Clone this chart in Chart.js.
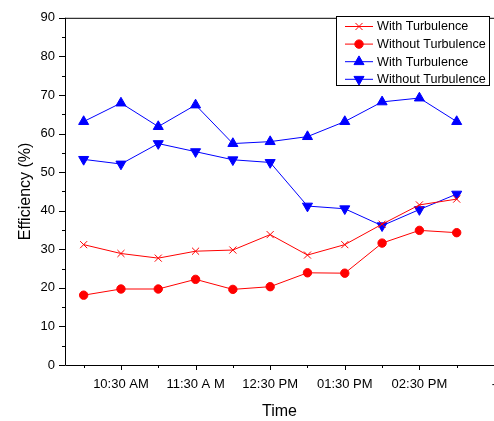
<!DOCTYPE html>
<html>
<head>
<meta charset="utf-8">
<script src="https://cdn.jsdelivr.net/npm/chart.js@4.4.1/dist/chart.umd.min.js"></script>
<style>
html,body{margin:0;padding:0;background:#fff;}
#wrap{width:494px;height:421px;position:relative;}
</style>
</head>
<body>
<div id="wrap"><canvas id="c" width="494" height="421"></canvas></div>
<script>
// ---- data ----
const pointIndex = [0,1,2,3,4,5,6,7,8,9,10];
const tickLabelIndex = [1,3,5,7,9,11];
const tickLabels = ['10:30 AM','11:30 A M','12:30 PM','01:30 PM','02:30 PM','-'];
const seriesNames = ['With Turbulence','Without Turbulence','With Turbulence','Without Turbulence'];
const redWith    = [31.2, 28.9, 27.7, 29.5, 29.8, 33.8, 28.5, 31.2, 36.5, 41.5, 43.0];
const redWithout = [18.1, 19.7, 19.7, 22.2, 19.6, 20.3, 23.9, 23.8, 31.6, 34.9, 34.3];
const blueWith   = [63.1, 67.9, 61.8, 67.4, 57.4, 57.9, 59.2, 63.1, 68.2, 69.2, 63.1];
const blueWithout= [53.3, 52.1, 57.4, 55.3, 53.2, 52.5, 41.2, 40.5, 36.1, 40.3, 44.3];

const toXY = arr => arr.map((v,i)=>({x:pointIndex[i], y:v}));
const FONT = "'Liberation Sans', Arial, sans-serif";

const datasets = [
  {label:seriesNames[0], data:toXY(redWith), borderColor:'#ff0000', backgroundColor:'#ff0000',
   pointStyle:'crossRot', pointRadius:5, pointBorderWidth:1, borderWidth:1},
  {label:seriesNames[1], data:toXY(redWithout), borderColor:'#ff0000', backgroundColor:'#ff0000',
   pointStyle:'circle', pointRadius:4.2, pointBorderWidth:1, borderWidth:1},
  {label:seriesNames[2], data:toXY(blueWith), borderColor:'#0000ff', backgroundColor:'#0000ff',
   pointStyle:'triangle', pointRadius:5.8, pointBorderWidth:1, borderWidth:1},
  {label:seriesNames[3], data:toXY(blueWithout), borderColor:'#0000ff', backgroundColor:'#0000ff',
   pointStyle:'triangle', pointRotation:180, pointRadius:5.8, pointBorderWidth:1, borderWidth:1}
];

const framePlugin = {
  id:'frame',
  afterDatasetsDraw(chart){
    const {ctx, chartArea:a, scales:{x,y}} = chart;
    ctx.save();
    ctx.strokeStyle = '#000';
    ctx.lineWidth = 1;
    ctx.beginPath();
    ctx.moveTo(a.left+0.5, a.top); ctx.lineTo(a.left+0.5, a.bottom+0.5);
    ctx.lineTo(chart.width, a.bottom+0.5);
    ctx.moveTo(a.left, a.top+0.5); ctx.lineTo(chart.width, a.top+0.5);
    x.ticks.forEach(t=>{
      const px = Math.round(x.getPixelForValue(t.value))+0.5;
      const len = (t.value % 2 === 1) ? 5 : 3;
      ctx.moveTo(px, a.bottom); ctx.lineTo(px, a.bottom+len);
    });
    y.ticks.forEach(t=>{
      const py = Math.round(y.getPixelForValue(t.value))+0.5;
      const len = (t.value % 10 === 0) ? 6 : 3;
      ctx.moveTo(a.left, py); ctx.lineTo(a.left-len, py);
    });
    ctx.stroke();

    // legend box
    const bx = 336.5, by = 16.5, bw = 153, bh = 69;
    ctx.fillStyle = '#fff';
    ctx.fillRect(bx, by, bw, bh);
    ctx.strokeStyle = '#000';
    ctx.strokeRect(bx, by, bw, bh);
    ctx.font = '12.6px ' + FONT;
    ctx.textBaseline = 'middle';
    ctx.textAlign = 'left';
    chart.data.datasets.forEach((ds,i)=>{
      const cy = 26.5 + i*17.6;
      ctx.strokeStyle = ds.borderColor;
      ctx.fillStyle = ds.backgroundColor;
      ctx.lineWidth = 1;
      ctx.beginPath();
      ctx.moveTo(345, cy); ctx.lineTo(373, cy);
      ctx.stroke();
      Chart.helpers.drawPoint(ctx, {pointStyle:ds.pointStyle, radius:ds.pointRadius, rotation:ds.pointRotation||0, borderWidth:1}, 359, cy);
      ctx.fillStyle = '#000';
      ctx.fillText(ds.label, 377, cy+0.5);
    });
    ctx.restore();
  }
};

new Chart(document.getElementById('c'), {
  type:'line',
  data:{datasets},
  options:{
    responsive:false,
    animation:false,
    devicePixelRatio:1,
    layout:{autoPadding:false, padding:{top:13, right:-1, left:0, bottom:0}},
    plugins:{legend:{display:false}, tooltip:{enabled:false}},
    elements:{line:{tension:0}},
    scales:{
      x:{
        type:'linear', min:-0.5, max:11,
        afterBuildTicks(s){ s.ticks = [0,1,2,3,4,5,6,7,8,9,10,11].map(v=>({value:v})); },
        afterFit(s){ s.height = 56; s.paddingRight = 0; s.paddingLeft = 0; },
        grid:{display:false, drawTicks:false},
        border:{display:false},
        ticks:{autoSkip:false, maxRotation:0, padding:12, color:'#000',
          font:{family:FONT, size:13},
          callback(v){ const k = tickLabelIndex.indexOf(v); return k>=0 ? tickLabels[k] : ''; }},
        title:{display:true, text:'Time', color:'#000', font:{family:FONT, size:16}, padding:{top:6,bottom:0}}
      },
      y:{
        min:0, max:90,
        afterBuildTicks(s){ const t=[]; for(let v=0; v<=90; v+=5) t.push({value:v}); s.ticks=t; },
        afterFit(s){ s.width = 65; },
        grid:{display:false, drawTicks:false},
        border:{display:false},
        ticks:{padding:10, color:'#000', font:{family:FONT, size:13},
          callback(v){ return v % 10 === 0 ? String(v) : ''; }},
        title:{display:true, text:'Efficiency (%)', color:'#000', font:{family:FONT, size:16}, padding:{top:16,bottom:4}}
      }
    }
  },
  plugins:[framePlugin]
});
</script>
</body>
</html>
